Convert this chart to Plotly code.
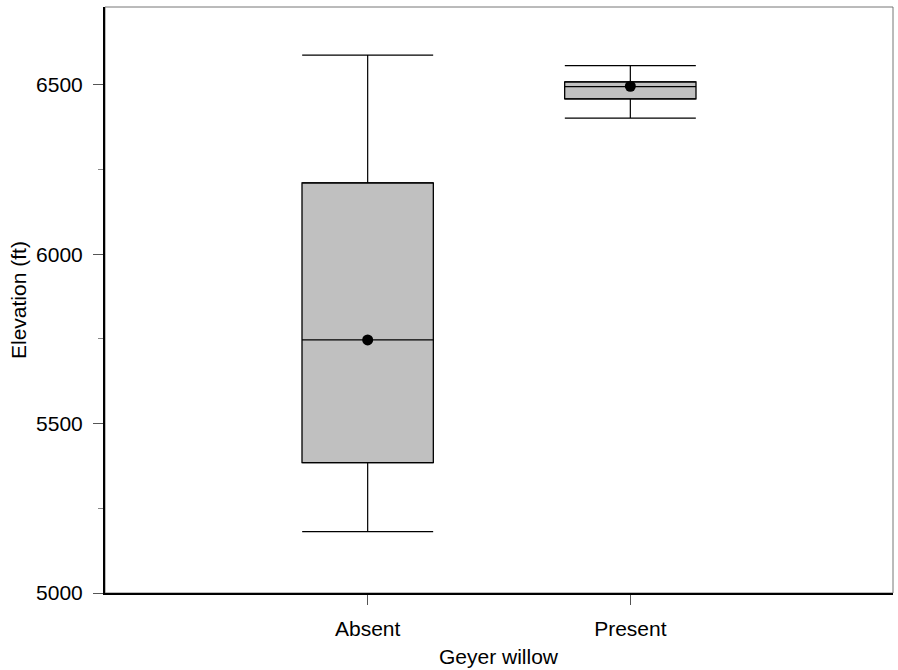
import plotly.graph_objects as go

# Elevation summary for sites with and without Geyer willow
groups = ["Absent", "Present"]
positions = [1, 2]
lower_whisker = [5181, 6402]
q1 = [5385, 6459]
median = [5747, 6495]
q3 = [6211, 6509]
upper_whisker = [6588, 6557]
mean = [5747, 6496]

y_ticks = [5000, 5500, 6000, 6500]

FONT = "Liberation Sans, Arial, sans-serif"

fig = go.Figure()

# upper whiskers (from Q3 up) and lower whiskers (from Q1 down), with end caps
fig.add_trace(go.Scatter(
    x=positions, y=q3, mode="markers",
    marker=dict(size=1, color="rgba(0,0,0,0)"),
    error_y=dict(type="data", symmetric=False,
                 array=[u - t for u, t in zip(upper_whisker, q3)],
                 arrayminus=[0] * len(q3),
                 color="black", thickness=1.2, width=65.5),
    hoverinfo="skip", showlegend=False,
))
fig.add_trace(go.Scatter(
    x=positions, y=q1, mode="markers",
    marker=dict(size=1, color="rgba(0,0,0,0)"),
    error_y=dict(type="data", symmetric=False,
                 array=[0] * len(q1),
                 arrayminus=[b - l for b, l in zip(q1, lower_whisker)],
                 color="black", thickness=1.2, width=65.5),
    hoverinfo="skip", showlegend=False,
))

# boxes
for i in range(len(groups)):
    fig.add_trace(go.Box(
        x=[positions[i]], q1=[q1[i]], median=[median[i]], q3=[q3[i]],
        lowerfence=[q1[i]], upperfence=[q3[i]],
        width=0.5, fillcolor="#c0c0c0",
        line=dict(color="black", width=1.3),
        whiskerwidth=0, showlegend=False, boxpoints=False,
    ))

# means
fig.add_trace(go.Scatter(
    x=positions, y=mean, mode="markers",
    marker=dict(size=11, color="black"),
    showlegend=False,
))

# thin frame around the plotting area
fig.add_shape(type="rect", xref="paper", yref="paper", x0=0, y0=0, x1=1, y1=1,
              line=dict(color="#777777", width=1), layer="below")

fig.add_annotation(text="Geyer willow", xref="paper", yref="paper",
                   x=0.5, y=-(656 - 593) / 586, xanchor="center", yanchor="middle",
                   showarrow=False, font=dict(family=FONT, size=21, color="black"))
fig.add_annotation(text="Elevation (ft)", xref="paper", yref="paper",
                   x=(18 - 105) / 788, y=0.5, xanchor="center", yanchor="middle",
                   textangle=-90, showarrow=False,
                   font=dict(family=FONT, size=21, color="black"))

fig.update_layout(
    width=898, height=670,
    margin=dict(l=105, r=5, t=7, b=77),
    paper_bgcolor="white", plot_bgcolor="white",
    font=dict(family=FONT, size=21, color="black"),
    xaxis=dict(
        type="linear", range=[0, 3], tickvals=positions, ticktext=groups,
        showgrid=False, zeroline=False,
        showline=True, linecolor="black", linewidth=2,
        ticks="outside", ticklen=10, tickcolor="#555555", tickwidth=1,
        ticklabelstandoff=6,
    ),
    yaxis=dict(
        range=[5000, 6730], tickvals=y_ticks,
        showgrid=False, zeroline=False,
        showline=True, linecolor="black", linewidth=2,
        ticks="outside", ticklen=10, tickcolor="#555555", tickwidth=1,
        ticklabelstandoff=6,
        minor=dict(tickvals=[5250, 5750, 6250], ticks="outside", ticklen=5,
                   tickcolor="#888888", tickwidth=1, showgrid=False),
    ),
)

fig.write_html("out.html")
